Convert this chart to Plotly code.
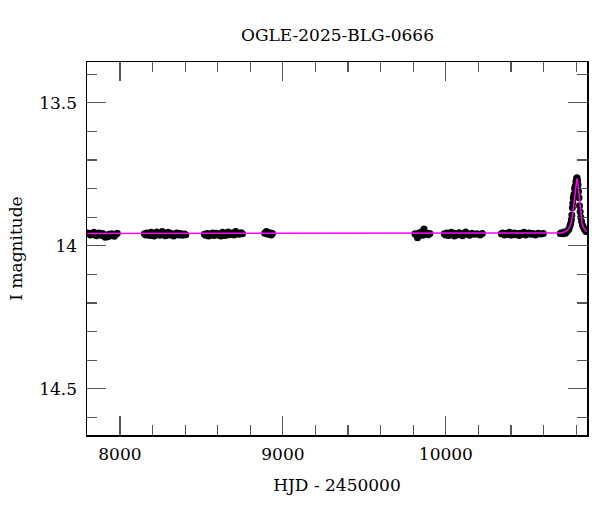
import plotly.graph_objects as go

# ---- data (HJD - 2450000, I magnitude) ----
s1_t = [7802, 7810, 7818, 7825, 7833, 7840, 7848, 7856, 7863, 7871, 7879, 7886,
        7894, 7902, 7910, 7918, 7926, 7934, 7942, 7950, 7958, 7966, 7975, 7984]
s1_m = [13.955, 13.958, 13.962, 13.957, 13.960, 13.953, 13.962, 13.965, 13.958, 13.955,
        13.960, 13.963, 13.957, 13.966, 13.970, 13.962, 13.968, 13.960, 13.965, 13.958,
        13.962, 13.967, 13.960, 13.956]

s2_t = [8150, 8158, 8166, 8175, 8184, 8192, 8200, 8210, 8218, 8226, 8235, 8244, 8252,
        8260, 8270, 8278, 8286, 8295, 8304, 8312, 8320, 8330, 8340, 8350, 8360, 8372,
        8384, 8396, 8404]
s2_m = [13.958, 13.962, 13.955, 13.960, 13.964, 13.953, 13.958, 13.966, 13.956, 13.952,
        13.960, 13.963, 13.955, 13.950, 13.958, 13.965, 13.957, 13.953, 13.962, 13.956,
        13.960, 13.966, 13.958, 13.955, 13.962, 13.957, 13.963, 13.959, 13.961]

s3_t = [8518, 8526, 8535, 8544, 8552, 8560, 8570, 8578, 8586, 8595, 8604, 8612, 8620,
        8630, 8638, 8646, 8655, 8664, 8672, 8680, 8690, 8700, 8710, 8720, 8732, 8744, 8752]
s3_m = [13.960, 13.963, 13.957, 13.966, 13.958, 13.962, 13.955, 13.964, 13.960, 13.956,
        13.962, 13.958, 13.966, 13.953, 13.960, 13.964, 13.957, 13.952, 13.961, 13.958,
        13.955, 13.962, 13.950, 13.957, 13.960, 13.954, 13.958]

s4_t = [8888, 8898, 8908, 8918, 8928, 8936]
s4_m = [13.956, 13.950, 13.960, 13.954, 13.962, 13.957]

s5_t = [9810, 9818, 9826, 9834, 9842, 9850, 9858, 9866, 9874, 9882, 9892, 9902]
s5_m = [13.958, 13.962, 13.972, 13.955, 13.960, 13.952, 13.963, 13.941, 13.958, 13.955,
        13.961, 13.957]

s6_t = [9990, 9998, 10007, 10016, 10025, 10034, 10043, 10052, 10062, 10072, 10082,
        10092, 10102, 10112, 10122, 10134, 10146, 10160, 10176, 10192, 10210, 10224]
s6_m = [13.958, 13.962, 13.955, 13.964, 13.960, 13.953, 13.958, 13.966, 13.957, 13.961,
        13.954, 13.960, 13.965, 13.957, 13.952, 13.960, 13.963, 13.956, 13.960, 13.958,
        13.962, 13.957]

s7_t = [10340, 10350, 10360, 10370, 10380, 10390, 10400, 10410, 10420, 10430, 10440,
        10450, 10460, 10470, 10480, 10490, 10500, 10512, 10524, 10536, 10550, 10566,
        10582, 10598]
s7_m = [13.958, 13.955, 13.962, 13.957, 13.960, 13.953, 13.963, 13.958, 13.955, 13.961,
        13.957, 13.964, 13.956, 13.960, 13.953, 13.962, 13.958, 13.955, 13.960, 13.957,
        13.962, 13.956, 13.959, 13.957]

s8_t = [10702, 10710, 10718, 10726, 10734, 10742, 10750, 10756, 10762, 10766, 10770,
        10773, 10776, 10779, 10782, 10786, 10790, 10794, 10798, 10802, 10805, 10808,
        10811, 10814, 10817, 10820, 10824, 10828, 10833, 10838, 10844, 10852, 10860]
s8_m = [13.957, 13.954, 13.958, 13.952, 13.956, 13.950, 13.946, 13.940, 13.930, 13.922,
        13.909, 13.892, 13.867, 13.850, 13.832, 13.820, 13.800, 13.790, 13.775, 13.765,
        13.762, 13.772, 13.787, 13.810, 13.832, 13.860, 13.881, 13.900, 13.915, 13.927,
        13.935, 13.944, 13.950]

model_t = [7800, 10680, 10710, 10730, 10748, 10760, 10770, 10778, 10786, 10792, 10798,
           10804, 10810, 10816, 10822, 10828, 10836, 10846, 10856, 10866]
model_m = [13.957, 13.957, 13.955, 13.951, 13.944, 13.933, 13.915, 13.890, 13.850, 13.812,
           13.778, 13.764, 13.780, 13.818, 13.862, 13.896, 13.922, 13.938, 13.946, 13.950]

xtick_vals = [8000, 9000, 10000]
xtick_text = ["8000", "9000", "10000"]
ytick_vals = [13.5, 14.0, 14.5]
ytick_text = ["13.5", "14", "14.5"]

obs_t = s1_t + s2_t + s3_t + s4_t + s5_t + s6_t + s7_t + s8_t
obs_m = s1_m + s2_m + s3_m + s4_m + s5_m + s6_m + s7_m + s8_m

FONT = "DejaVu Serif"

fig = go.Figure()
fig.add_trace(go.Scatter(
    x=obs_t, y=obs_m, mode="markers",
    marker=dict(color="black", size=7, line=dict(width=0)),
    showlegend=False))
fig.add_trace(go.Scatter(
    x=model_t, y=model_m, mode="lines",
    line=dict(color="#ff00ff", width=1.5),
    showlegend=False))

axis_common = dict(
    showline=True, linecolor="black", linewidth=1.5, mirror="allticks",
    ticks="inside", ticklen=19, tickwidth=1.2, tickcolor="#555555",
    showgrid=False, zeroline=False,
    tickfont=dict(family=FONT, size=17, color="black"),
)

fig.update_xaxes(
    range=[7798, 10866], tickvals=xtick_vals, ticktext=xtick_text,
    ticklabelstandoff=3,
    minor=dict(dtick=200, ticks="inside", ticklen=10, tickwidth=1.2, tickcolor="#555555",
               showgrid=False),
    title=dict(text="HJD - 2450000", font=dict(family=FONT, size=17, color="black"),
               standoff=16),
    **axis_common)
fig.update_yaxes(
    range=[14.662, 13.357], tickvals=ytick_vals, ticktext=ytick_text,
    ticklabelstandoff=5,
    minor=dict(dtick=0.1, ticks="inside", ticklen=10, tickwidth=1.2, tickcolor="#555555",
               showgrid=False),
    title=dict(text="I magnitude", font=dict(family=FONT, size=17, color="black"),
               standoff=12),
    **axis_common)

fig.update_layout(
    width=600, height=512,
    margin=dict(l=87, r=13, t=62, b=77),
    paper_bgcolor="white", plot_bgcolor="white",
    hovermode=False,
    title=dict(text="OGLE-2025-BLG-0666", x=0.5625, xanchor="center", y=0.932,
               yanchor="middle", font=dict(family=FONT, size=17, color="black")),
)

fig.write_html("out.html", config={"displayModeBar": False, "staticPlot": True},
               post_script="document.body.style.margin='0';")
